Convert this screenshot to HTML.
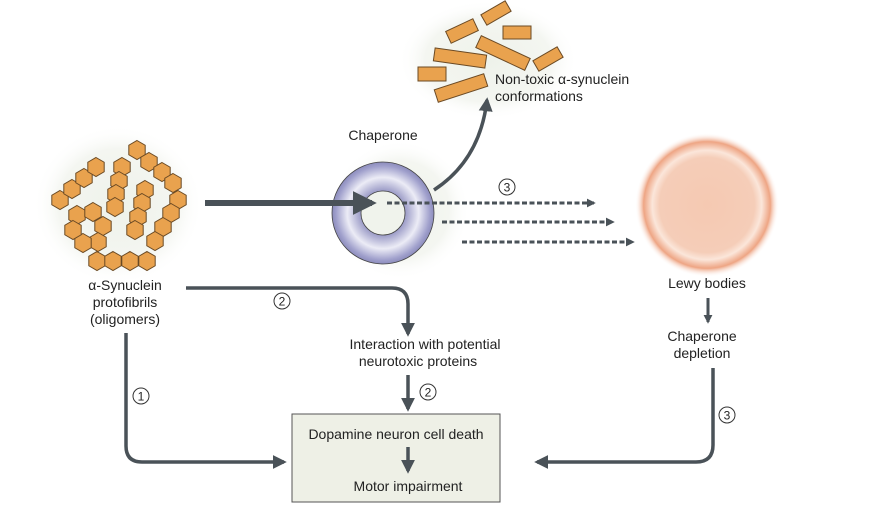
<!DOCTYPE html>
<html><head><meta charset="utf-8"><style>
html,body{margin:0;padding:0;background:#fff;}
svg{display:block;font-family:"Liberation Sans",Arial,sans-serif;}
</style></head><body>
<svg width="873" height="510" viewBox="0 0 873 510" xmlns="http://www.w3.org/2000/svg">
<defs>
<radialGradient id="glow" cx="50%" cy="50%" r="50%">
<stop offset="0" stop-color="#eef2ea"/><stop offset="0.7" stop-color="#f4f6f1"/><stop offset="1" stop-color="#fff" stop-opacity="0"/>
</radialGradient>
<radialGradient id="ring" cx="50%" cy="50%" r="50%">
<stop offset="0.43" stop-color="#9a9ac6"/><stop offset="0.7" stop-color="#ececf6"/><stop offset="0.92" stop-color="#a0a0cc"/><stop offset="1" stop-color="#8c8cbc"/>
</radialGradient>
<radialGradient id="lewy" cx="50%" cy="50%" r="50%">
<stop offset="0" stop-color="#f5c9b2"/><stop offset="0.66" stop-color="#f5cdb8"/><stop offset="0.76" stop-color="#fbe6da"/><stop offset="0.88" stop-color="#eea584"/><stop offset="1" stop-color="#fff" stop-opacity="0"/>
</radialGradient>
<marker id="ah" viewBox="0 0 10 10" refX="8" refY="5" markerWidth="4" markerHeight="4" orient="auto" markerUnits="strokeWidth"><path d="M0,0L10,5L0,10z" fill="#4a5258"/></marker>
<marker id="ahs" viewBox="0 0 10 10" refX="8" refY="5" markerWidth="3" markerHeight="3" orient="auto" markerUnits="strokeWidth"><path d="M0,0L10,5L0,10z" fill="#4a5258"/></marker>
<polygon id="hx" points="0,-9.5 8.2,-4.75 8.2,4.75 0,9.5 -8.2,4.75 -8.2,-4.75" fill="#e9a24e" stroke="#6b4a24" stroke-width="1"/>
</defs>

<ellipse cx="118" cy="205" rx="85" ry="80" fill="url(#glow)"/>
<ellipse cx="488" cy="60" rx="90" ry="60" fill="url(#glow)"/>
<ellipse cx="400" cy="210" rx="70" ry="70" fill="url(#glow)"/>

<g>
<use href="#hx" x="60" y="200"/><use href="#hx" x="72" y="189"/><use href="#hx" x="84" y="178"/><use href="#hx" x="96" y="167"/>
<use href="#hx" x="122" y="167"/><use href="#hx" x="119" y="181"/><use href="#hx" x="116" y="194"/><use href="#hx" x="115" y="207"/>
<use href="#hx" x="145" y="190"/><use href="#hx" x="142" y="203"/><use href="#hx" x="138" y="217"/><use href="#hx" x="135" y="230"/>
<use href="#hx" x="137" y="150"/><use href="#hx" x="149" y="162"/><use href="#hx" x="162" y="172"/><use href="#hx" x="173" y="183"/>
<use href="#hx" x="178" y="200"/><use href="#hx" x="171" y="213"/><use href="#hx" x="163" y="227"/><use href="#hx" x="155" y="241"/>
<use href="#hx" x="77" y="215"/><use href="#hx" x="93" y="212"/><use href="#hx" x="103" y="226"/><use href="#hx" x="98" y="242"/><use href="#hx" x="83" y="243"/><use href="#hx" x="73" y="230"/>
<use href="#hx" x="97" y="261"/><use href="#hx" x="113" y="261"/><use href="#hx" x="130" y="261"/><use href="#hx" x="147" y="261"/>
</g>

<g fill="#e9a24e" stroke="#6b4a24" stroke-width="1">
<rect x="-15" y="-6.5" width="30" height="13" transform="translate(462,31) rotate(-25)"/>
<rect x="-14" y="-6" width="28" height="12" transform="translate(496,13) rotate(-30)"/>
<rect x="503" y="26" width="28" height="13"/>
<rect x="-27" y="-6.5" width="54" height="13" transform="translate(503,53) rotate(25)"/>
<rect x="-26" y="-6.5" width="52" height="13" transform="translate(460,58) rotate(8)"/>
<rect x="-14" y="-6" width="28" height="12" transform="translate(548,59) rotate(-30)"/>
<rect x="418" y="67" width="28" height="14"/>
<rect x="-26" y="-6.5" width="52" height="13" transform="translate(461,88) rotate(-18)"/>
</g>
<text x="495" y="84" font-size="14" fill="#222">Non-toxic α-synuclein</text>
<text x="495" y="101" font-size="14" fill="#222">conformations</text>

<text x="383" y="140" font-size="14" fill="#222" text-anchor="middle">Chaperone</text>
<circle cx="383" cy="213" r="51" fill="url(#ring)" stroke="#444" stroke-width="0.8"/>
<circle cx="383" cy="213" r="22" fill="#f0f3ec" stroke="#444" stroke-width="0.8"/>

<circle cx="707" cy="205" r="72" fill="url(#lewy)"/>
<text x="707" y="288" font-size="14" fill="#222" text-anchor="middle">Lewy bodies</text>

<g stroke="#4a5258" fill="none">
<line x1="205" y1="203" x2="372" y2="203" stroke-width="6" marker-end="url(#ah)"/>
<path d="M434,190 Q480,160 487,100" stroke-width="3.5" marker-end="url(#ah)"/>
<g stroke-width="3" stroke-dasharray="5,2.5" marker-end="url(#ahs)">
<line x1="387" y1="203" x2="594" y2="203"/>
<line x1="442" y1="222" x2="613" y2="222"/>
<line x1="462" y1="242" x2="633" y2="242"/>
</g>
<line x1="708" y1="298" x2="708" y2="322" stroke-width="3" marker-end="url(#ahs)"/>
<path d="M713,368 L713,445 Q713,462 696,462 L537,462" stroke-width="3.5" marker-end="url(#ah)"/>
<path d="M186,288 L392,288 Q408,288 408,304 L408,334" stroke-width="3.5" marker-end="url(#ah)"/>
<line x1="408" y1="375" x2="408" y2="409" stroke-width="3.5" marker-end="url(#ah)"/>
<path d="M126,333 L126,446 Q126,462 142,462 L284,462" stroke-width="3.5" marker-end="url(#ah)"/>
</g>

<text x="125" y="290" font-size="14" fill="#222" text-anchor="middle">α-Synuclein</text>
<text x="125" y="307" font-size="14" fill="#222" text-anchor="middle">protofibrils</text>
<text x="125" y="324" font-size="14" fill="#222" text-anchor="middle">(oligomers)</text>

<text x="425" y="349" font-size="14" fill="#222" text-anchor="middle">Interaction with potential</text>
<text x="418" y="366" font-size="14" fill="#222" text-anchor="middle">neurotoxic proteins</text>

<text x="702" y="341" font-size="14" fill="#222" text-anchor="middle">Chaperone</text>
<text x="702" y="358" font-size="14" fill="#222" text-anchor="middle">depletion</text>

<g fill="#fff" stroke="#333" stroke-width="1">
<circle cx="507" cy="187" r="8"/><circle cx="282" cy="301" r="8"/><circle cx="428" cy="392" r="8"/><circle cx="141" cy="396" r="8"/><circle cx="727" cy="415" r="8"/>
</g>
<g font-size="12" fill="#222" text-anchor="middle">
<text x="507" y="191.5">3</text><text x="282" y="305.5">2</text><text x="428" y="396.5">2</text><text x="141" y="400.5">1</text><text x="727" y="419.5">3</text>
</g>

<rect x="292" y="414" width="208" height="88" fill="#eef0e6" stroke="#555" stroke-width="1"/>
<text x="396" y="439" font-size="14" fill="#222" text-anchor="middle">Dopamine neuron cell death</text>
<line x1="408" y1="447" x2="408" y2="471" stroke="#4a5258" stroke-width="3.5" marker-end="url(#ah)"/>
<text x="408" y="491" font-size="14" fill="#222" text-anchor="middle">Motor impairment</text>
</svg>
</body></html>
